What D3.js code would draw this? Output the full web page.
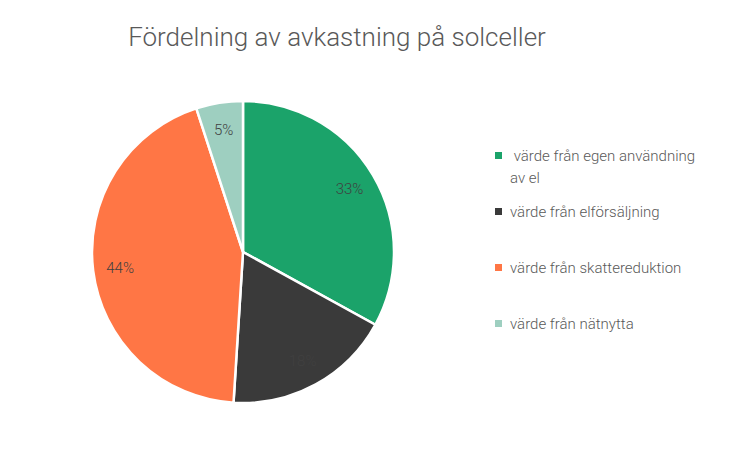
<!DOCTYPE html>
<html><head><meta charset="utf-8">
<script src="https://cdn.jsdelivr.net/npm/d3@7"></script>
<style>body{margin:0;background:#fff}</style>
</head><body>
<svg id="c" width="740" height="450"></svg>
<script>
const categories = [" värde från egen användning av el", "värde från elförsäljning", "värde från skattereduktion", "värde från nätnytta"];
const legendLines = [[" värde från egen användning", "av el"], ["värde från elförsäljning"], ["värde från skattereduktion"], ["värde från nätnytta"]];
const values = [33, 18, 44, 5];
const labels = ["33%", "18%", "44%", "5%"];
const colors = ["#1ba36a", "#3a3a3a", "#ff7645", "#9ecfc0"];

const svg = d3.select("#c");
const font = "Roboto, 'DejaVu Sans', sans-serif";
svg.append("text").attr("x", 337).attr("y", 46).attr("text-anchor", "middle")
  .attr("font-family", font).attr("font-weight", 300).attr("font-size", 26).attr("fill", "#595959")
  .text("Fördelning av avkastning på solceller");

const R = 151, cx = 243, cy = 252;
const pie = d3.pie().sort(null).value(d => d)(values);
const arc = d3.arc().innerRadius(0).outerRadius(R);
const lab = d3.arc().innerRadius(R * 0.82).outerRadius(R * 0.82);
const g = svg.append("g").attr("transform", `translate(${cx},${cy})`);
g.selectAll("path").data(pie).join("path").attr("d", arc)
  .attr("fill", (d, i) => colors[i]).attr("stroke", "#fff").attr("stroke-width", 2.5);
g.selectAll("text").data(pie).join("text")
  .attr("transform", d => `translate(${lab.centroid(d)})`)
  .attr("text-anchor", "middle").attr("dy", "0.35em")
  .attr("font-family", font).attr("font-weight", 300).attr("font-size", 15).attr("fill", "#404040")
  .text((d, i) => labels[i]);

const ly = [156, 212, 268, 324];
const lg = svg.append("g");
legendLines.forEach((lines, i) => {
  lg.append("rect").attr("x", 495).attr("y", ly[i] - 4).attr("width", 7).attr("height", 7).attr("fill", colors[i]);
  lines.forEach((t, j) => {
    lg.append("text").attr("x", 510).attr("y", ly[i] + j * 22).attr("dy", "0.35em")
      .attr("font-family", font).attr("font-weight", 300).attr("font-size", 15).attr("fill", "#595959")
      .attr("xml:space", "preserve").style("white-space", "pre").text(t);
  });
});
</script>
</body></html>
